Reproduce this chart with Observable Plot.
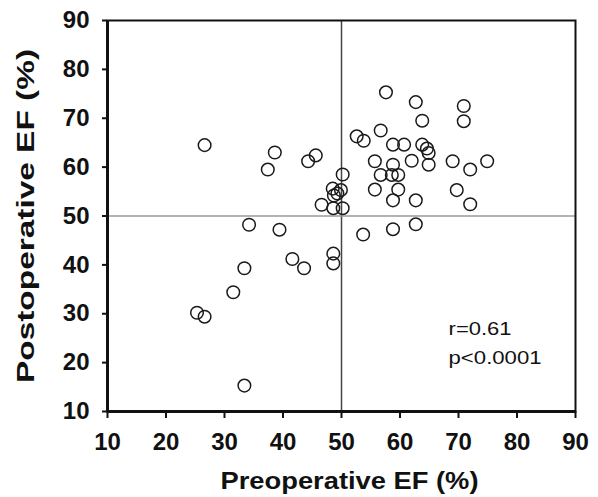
<!DOCTYPE html>
<html>
<head>
<meta charset="utf-8">
<script src="https://cdn.jsdelivr.net/npm/d3@7"></script>
<script src="https://cdn.jsdelivr.net/npm/@observablehq/plot@0.6"></script>
<style>
  html, body { margin: 0; padding: 0; background: #fff; }
</style>
</head>
<body>
<div id="chart"></div>
<script>
const preEF = [57.6, 62.7, 70.9, 70.9, 63.8, 56.7, 52.6, 53.8, 26.6, 38.6, 45.6, 44.3, 37.4,
  58.8, 60.7, 63.8, 64.6, 64.9, 64.9, 55.7, 62.0, 58.8, 69.0, 74.9, 72.0, 56.7, 58.6, 59.7,
  50.2, 48.5, 49.9, 49.3, 48.7, 46.6, 48.6, 50.2, 55.7, 59.7, 58.8, 62.7, 69.7, 72.0,
  53.7, 58.8, 62.7, 34.2, 39.4, 48.6, 48.6, 41.6, 43.6, 33.4, 31.5, 25.3, 26.6, 33.4];
const postEF = [75.3, 73.3, 72.5, 69.4, 69.5, 67.5, 66.3, 65.4, 64.5, 63.0, 62.4, 61.2, 59.5,
  64.6, 64.6, 64.6, 63.8, 62.9, 60.5, 61.2, 61.3, 60.5, 61.2, 61.2, 59.5, 58.4, 58.4, 58.4,
  58.5, 55.6, 55.3, 54.6, 54.2, 52.3, 51.6, 51.6, 55.4, 55.4, 53.2, 53.2, 55.3, 52.4,
  46.2, 47.3, 48.3, 48.2, 47.2, 42.3, 40.3, 41.2, 39.3, 39.3, 34.4, 30.2, 29.4, 15.3];
const tickValues = [10, 20, 30, 40, 50, 60, 70, 80, 90];
const thresholds = [50];
const xTitle = "Preoperative EF (%)";
const yTitle = "Postoperative EF (%)";
const statLines = ["r=0.61", "p<0.0001"];
const statX = [68.3, 68.3];
const statY = [25.75, 19.8];

const points = preEF.map((x, i) => ({x, y: postEF[i]}));
const stats = statLines.map((t, i) => ({t, x: statX[i], y: statY[i]}));

const chart = Plot.plot({
  width: 598,
  height: 497,
  marginLeft: 107,
  marginRight: 23,
  marginTop: 20,
  marginBottom: 86,
  style: {fontFamily: "'Liberation Sans', Arial, sans-serif", background: "#fff", color: "#111"},
  x: {domain: [10, 90]},
  y: {domain: [10, 90]},
  marks: [
    Plot.ruleX(thresholds, {stroke: "#444", strokeWidth: 1.5}),
    Plot.ruleY(thresholds, {stroke: "#9a9a9a", strokeWidth: 1.5}),
    Plot.frame({stroke: "#111", strokeWidth: 2}),
    Plot.ruleX([10], {stroke: "#111", strokeWidth: 3}),
    Plot.ruleY([10], {stroke: "#111", strokeWidth: 3}),
    Plot.axisX({ticks: tickValues, tickSize: 7, tickPadding: 14, tickFormat: d => String(d),
      fontSize: 24, fontWeight: "bold", label: null, strokeWidth: 2}),
    Plot.axisY({ticks: tickValues, tickSize: 5, tickPadding: 13, tickFormat: d => String(d),
      fontSize: 24, fontWeight: "bold", label: null, strokeWidth: 2}),
    Plot.dot(points, {x: "x", y: "y", r: 6.3, stroke: "#1a1a1a", strokeWidth: 1.5, fill: "none"}),
    Plot.text(stats, {x: "x", y: "y", text: "t", textAnchor: "start", lineAnchor: "bottom",
      fontSize: 18, fill: "#111"}),
    Plot.text([xTitle], {frameAnchor: "bottom", dx: 8, dy: 77, lineAnchor: "bottom", textAnchor: "middle",
      fontSize: 23, fontWeight: "bold", fill: "#111"}),
    Plot.text([yTitle], {frameAnchor: "left", dx: -74, rotate: -90, lineAnchor: "bottom", textAnchor: "middle",
      fontSize: 24, fontWeight: "bold", fill: "#111"})
  ]
});
document.getElementById("chart").appendChild(chart);

// stretch texts to the widths seen in the reference
const lengths = new Map([[xTitle, 258], [yTitle, 334], [statLines[0], 63], [statLines[1], 93]]);
chart.querySelectorAll("text").forEach(t => {
  const L = lengths.get(t.textContent);
  if (L) {
    t.setAttribute("textLength", L);
    t.setAttribute("lengthAdjust", "spacingAndGlyphs");
  }
});
</script>
</body>
</html>
